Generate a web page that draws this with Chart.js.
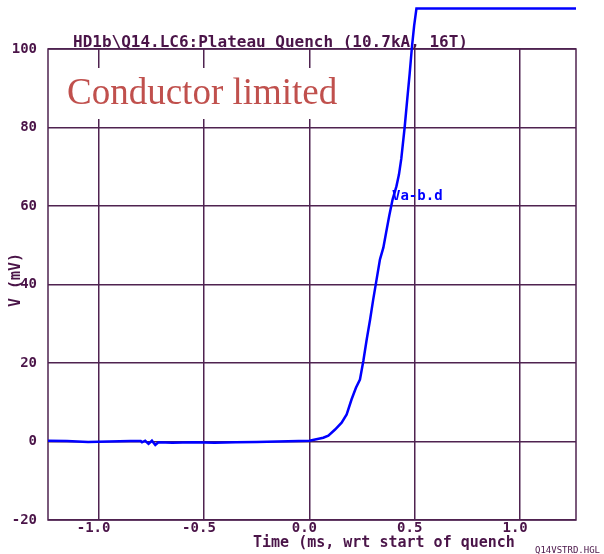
<!DOCTYPE html>
<html>
<head>
<meta charset="utf-8">
<script src="https://cdn.jsdelivr.net/npm/chart.js@4/dist/chart.umd.min.js"></script>
<style>
  html, body { margin: 0; padding: 0; background: #ffffff; }
  #wrap { width: 604px; height: 554px; position: relative; }
</style>
</head>
<body>
<div id="wrap"><canvas id="quenchChart" width="604" height="554"></canvas></div>
<script>
  // values: time in ms, voltage in mV
  const timeMs = [-1.24, -1.15, -1.05, -0.95, -0.85, -0.80, -0.794, -0.779, -0.763, -0.747, -0.731, -0.716,
    -0.65, -0.55, -0.45, -0.35, -0.25, -0.15, -0.05, 0.0, 0.066, 0.09, 0.122, 0.153, 0.177, 0.2, 0.221,
    0.24, 0.256, 0.272, 0.288, 0.303, 0.319, 0.335, 0.351, 0.364, 0.379, 0.395, 0.413, 0.425, 0.436, 0.452,
    0.464, 0.476, 0.487, 0.497, 0.508, 1.265];
  const voltMv = [0.2, 0.1, -0.1, 0.0, 0.1, 0.1, -0.2, 0.2, -0.6, 0.2, -0.9, -0.2,
    -0.3, -0.2, -0.3, -0.2, -0.1, 0.0, 0.1, 0.2, 0.95, 1.5, 3.06, 4.8, 6.9, 10.7, 13.7,
    15.8, 20.5, 26, 31, 36.2, 41.3, 46.4, 49.4, 53.2, 57.5, 61.7, 65, 68, 72, 80,
    87, 93.8, 100.7, 105.9, 110.3, 110.3];
  const xTicks = [-1.0, -0.5, 0.0, 0.5, 1.0];
  const yTicks = [-20, 0, 20, 40, 60, 80, 100];

  const titleText = "HD1b\\Q14.LC6:Plateau Quench (10.7kA, 16T)";
  const noteText = "Conductor limited";
  const seriesLabel = "Va-b.d";
  const xTitle = "Time (ms, wrt start of quench";
  const yTitle = "V (mV)";
  const fileTag = "Q14VSTRD.HGL";

  const ink = "#4a1448";
  const gridInk = "#4f2350";
  const mono = "'DejaVu Sans Mono', monospace";

  const points = timeMs.map((t, i) => ({ x: t, y: voltMv[i] }));

  const framePlugin = {
    id: "frame",
    beforeDatasetsDraw(chart) {
      const a = chart.chartArea;
      const ctx = chart.ctx;
      ctx.save();
      ctx.strokeStyle = gridInk;
      ctx.lineWidth = 1.5;
      ctx.strokeRect(a.left, a.top, a.right - a.left, a.bottom - a.top);
      // white box behind the note
      ctx.fillStyle = "#ffffff";
      ctx.fillRect(58, 68, 288, 51);
      ctx.restore();
    },
    afterDraw(chart) {
      const ctx = chart.ctx;
      ctx.save();
      ctx.fillStyle = ink;
      ctx.textBaseline = "alphabetic";
      ctx.textAlign = "left";
      ctx.font = "bold 16px " + mono;
      ctx.fillText(titleText, 73, 46.5);

      ctx.font = "bold 15px " + mono;
      ctx.fillText(xTitle, 253, 547);

      ctx.font = "9px " + mono;
      ctx.fillText(fileTag, 535, 553);

      ctx.save();
      ctx.translate(20, 280);
      ctx.rotate(-Math.PI / 2);
      ctx.textAlign = "center";
      ctx.font = "bold 15px " + mono;
      ctx.fillText(yTitle, 0, 0);
      ctx.restore();

      ctx.fillStyle = "#0000ff";
      ctx.font = "bold 14px " + mono;
      ctx.fillText(seriesLabel, 392, 200);

      ctx.fillStyle = "#c0504d";
      ctx.font = "37px 'Liberation Serif', 'Times New Roman', serif";
      ctx.fillText(noteText, 67, 104);
      ctx.restore();
    }
  };

  new Chart(document.getElementById("quenchChart"), {
    type: "line",
    data: {
      datasets: [{
        label: seriesLabel,
        data: points,
        borderColor: "#0000ff",
        borderWidth: 2.5,
        pointRadius: 0,
        tension: 0,
        clip: false
      }]
    },
    options: {
      responsive: false,
      animation: false,
      layout: { padding: { top: 49, right: 28, left: 0, bottom: 0 } },
      plugins: { legend: { display: false }, tooltip: { enabled: false } },
      scales: {
        x: {
          type: "linear",
          min: -1.24,
          max: 1.265,
          afterBuildTicks(scale) { scale.ticks = xTicks.map(v => ({ value: v })); },
          afterFit(scale) { scale.height = 34; },
          grid: { color: gridInk, lineWidth: 1.5, drawTicks: false },
          border: { display: false },
          ticks: {
            color: ink,
            padding: 0,
            labelOffset: -5,
            maxRotation: 0,
            font: { family: mono, size: 14, weight: "bold" },
            callback: v => v.toFixed(1)
          }
        },
        y: {
          min: -20,
          max: 100,
          afterBuildTicks(scale) { scale.ticks = yTicks.map(v => ({ value: v })); },
          afterFit(scale) { scale.width = 48; },
          grid: { color: gridInk, lineWidth: 1.5, drawTicks: false },
          border: { display: false },
          ticks: {
            color: ink,
            padding: 11,
            font: { family: mono, size: 14, weight: "bold" }
          }
        }
      }
    },
    plugins: [framePlugin]
  });
</script>
</body>
</html>
